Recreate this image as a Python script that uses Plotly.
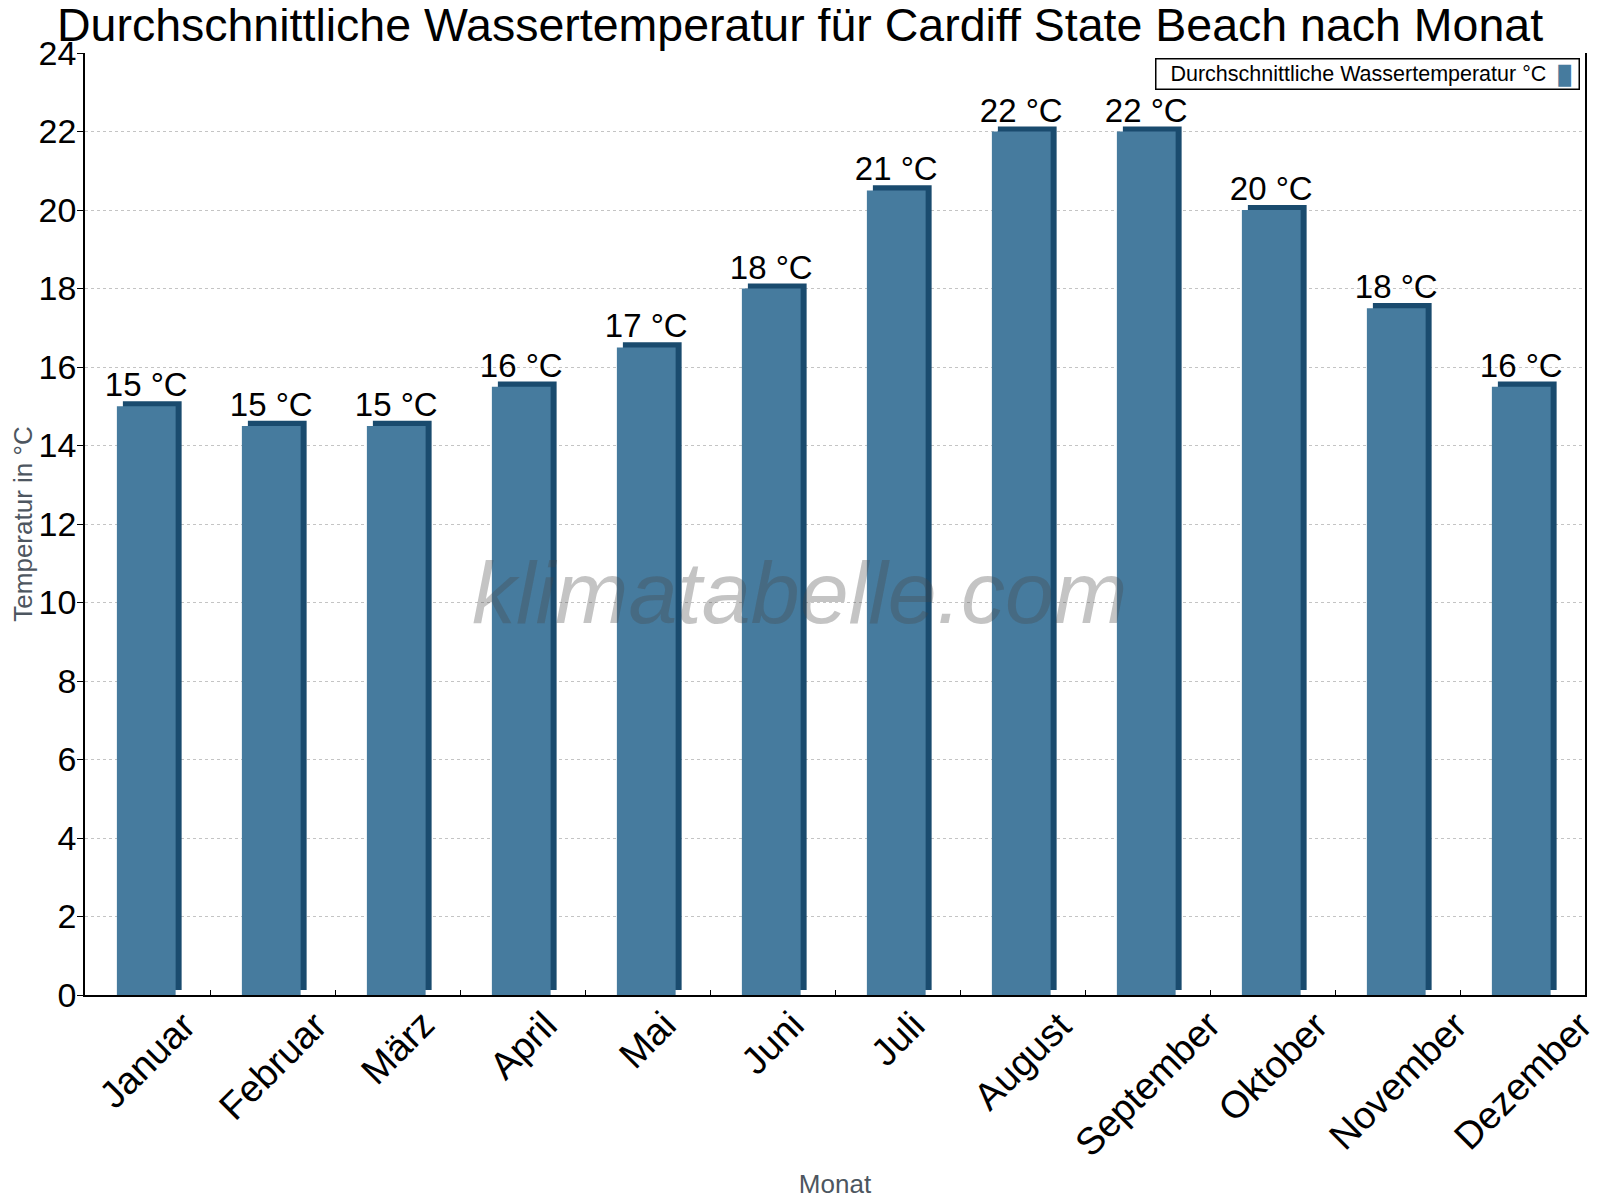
import math
import plotly.graph_objects as go

months = ["Januar", "Februar", "März", "April", "Mai", "Juni", "Juli",
          "August", "September", "Oktober", "November", "Dezember"]
water_temp = [15, 14.5, 14.5, 15.5, 16.5, 18, 20.5, 22, 22, 20, 17.5, 15.5]
y_ticks = list(range(0, 25, 2))

labels = [f"{math.floor(v + 0.5)} °C" for v in water_temp]

FONT = "Liberation Sans, Arial, sans-serif"
FRONT = "#467B9E"
SIDE = "#1A4B6E"

fig = go.Figure()

# dark "3D" side/top of each bar, drawn slightly right and up
fig.add_trace(go.Bar(
    x=months, y=water_temp, base=0.13,
    width=0.47, offset=-0.197,
    marker=dict(color=SIDE, line=dict(width=0)),
    hoverinfo="skip", showlegend=False,
))

fig.add_trace(go.Bar(
    x=months, y=water_temp,
    width=0.47, offset=-0.245,
    marker=dict(color=FRONT, line=dict(width=0)),
    text=labels, textposition="outside", cliponaxis=False, constraintext="none",
    textfont=dict(family=FONT, size=33, color="black"),
    name="Durchschnittliche Wassertemperatur °C",
    showlegend=False,
))

fig.update_layout(
    width=1592, height=1192,
    barmode="overlay",
    paper_bgcolor="white", plot_bgcolor="white",
    margin=dict(l=77, r=15, t=45, b=205, autoexpand=False),
    font=dict(family=FONT, color="black"),
    title=dict(
        text="Durchschnittliche Wassertemperatur für Cardiff State Beach nach Monat",
        font=dict(family=FONT, size=46.5, color="black"),
        x=0.4975, xanchor="center", y=0.986, yanchor="middle",
    ),
    xaxis=dict(
        range=[-0.5, len(months) - 0.5],
        showticklabels=False,
        ticks="inside", tickson="boundaries", ticklen=5, tickcolor="black",
        showline=True, linecolor="black", linewidth=1.5,
        showgrid=False,
        title=dict(text="Monat", font=dict(size=26, color="#4D5660"), standoff=179),
    ),
    yaxis=dict(
        range=[0, 24], tickvals=y_ticks, tickfont=dict(size=34),
        ticks="outside", ticklen=6, tickcolor="black", ticklabelstandoff=-6,
        showline=True, linecolor="black", linewidth=1.5, mirror=True,
        showgrid=True, gridcolor="#C4C4C4", griddash="dot", gridwidth=1,
        zeroline=False,
        title=dict(text="Temperatur in °C", font=dict(size=26, color="#4D5660"), standoff=10),
    ),
    showlegend=False,
)

# month labels: rotated, bounding box centred under each category
for m in months:
    fig.add_annotation(
        x=m, xref="x", y=0, yref="paper", xanchor="center", yanchor="top",
        text=m, textangle=-45, showarrow=False, yshift=-6,
        font=dict(family=FONT, size=38, color="black"),
    )

# legend box (marker sits to the right of the text in the reference)
fig.add_annotation(
    xref="paper", yref="paper", x=0.9967, y=0.9947, xanchor="right", yanchor="top",
    text=("&nbsp;&nbsp;Durchschnittliche Wassertemperatur °C &nbsp;"
          "<span style='color:%s;font-size:18px'>█</span>&nbsp;" % FRONT),
    showarrow=False, font=dict(family=FONT, size=21.5, color="black"),
    bordercolor="black", borderwidth=1.5, borderpad=2, bgcolor="white",
)

# watermark
fig.add_annotation(
    xref="paper", yref="paper", x=0.476, y=0.4275, xanchor="center", yanchor="middle",
    text="<i>klimatabelle.com</i>", showarrow=False,
    font=dict(family=FONT, size=88, color="rgba(70,70,70,0.32)"),
)

fig.write_html("out.html")
